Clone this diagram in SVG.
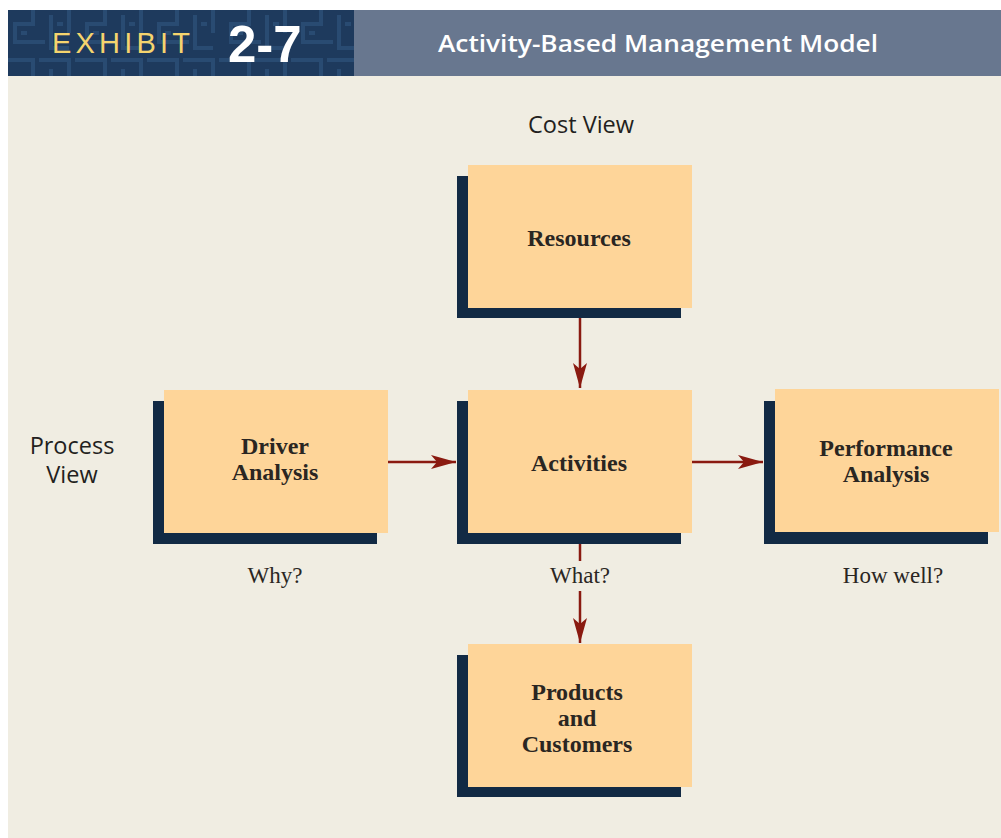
<svg xmlns="http://www.w3.org/2000/svg" width="1001" height="838" viewBox="0 0 1001 838">
<defs>
<style>
.shadow{fill:#122a44}
.box{fill:#fed599}
.lbl{font-family:"Liberation Serif",serif;font-weight:bold;font-size:24px;fill:#2a2622;text-anchor:middle}
.q{font-family:"Liberation Serif",serif;font-size:23px;fill:#2a2622;text-anchor:middle}
.view{font-family:"Open Sans","Liberation Sans",sans-serif;font-size:23.5px;fill:#231f20;text-anchor:middle}
.conn{stroke:#8a1a10;stroke-width:2.5;fill:none}
</style>
<marker id="ah" markerUnits="userSpaceOnUse" markerWidth="26" markerHeight="16" viewBox="-25 -8 26 16" refX="0" refY="0" orient="auto">
<path d="M0 0 L-25 -7 L-19 0 L-25 7 Z" fill="#8a1a10"/>
</marker>
<pattern id="maze" patternUnits="userSpaceOnUse" width="72" height="54">
<rect width="72" height="54" fill="#1e3a5d"/>
<path d="M3 6 H33 V24 H15 V42 H45 M39 6 H69 V33 M51 15 V48 H69 M21 33 H27 M57 24 H63" stroke="#294b72" stroke-width="4" fill="none"/>
</pattern>
</defs>
<rect width="1001" height="838" fill="#ffffff"/>
<rect x="8" y="76" width="993" height="762" fill="#f0ede2"/>
<g id="header">
<rect x="8" y="10" width="346" height="66" fill="url(#maze)"/>
<rect x="354" y="10" width="647" height="66" fill="#68778f"/>
<text x="52" y="53" font-family="Liberation Sans, sans-serif" font-size="29" letter-spacing="4.2" fill="#f5d46e">EXHIBIT</text>
<text x="228" y="62" font-family="Liberation Sans, sans-serif" font-weight="bold" font-size="51" fill="#ffffff">2-7</text>
<text x="438" y="52" font-family="Open Sans, Liberation Sans, sans-serif" font-weight="600" font-size="23" fill="#ffffff" textLength="440" lengthAdjust="spacingAndGlyphs">Activity-Based Management Model</text>
</g>
<g id="view-labels">
<text class="view" x="581" y="133">Cost View</text>
<text class="view" x="72" y="454">Process</text>
<text class="view" x="72" y="483">View</text>
</g>
<g id="connectors">
<path class="conn" d="M580 318 V388" marker-end="url(#ah)"/>
<path class="conn" d="M388 462 H456" marker-end="url(#ah)"/>
<path class="conn" d="M692 462 H763" marker-end="url(#ah)"/>
<path class="conn" d="M580 544 V561"/>
<path class="conn" d="M580 591 V643" marker-end="url(#ah)"/>
</g>
<g id="resources">
<rect class="shadow" x="457" y="176" width="224" height="142"/>
<rect class="box" x="468" y="165" width="224" height="143"/>
<text class="lbl" x="579" y="246">Resources</text>
</g>
<g id="driver-analysis">
<rect class="shadow" x="153" y="401" width="224" height="143"/>
<rect class="box" x="164" y="390" width="224" height="143"/>
<text class="lbl" x="275" y="454">Driver</text>
<text class="lbl" x="275" y="480">Analysis</text>
</g>
<g id="activities">
<rect class="shadow" x="457" y="401" width="224" height="143"/>
<rect class="box" x="468" y="390" width="224" height="143"/>
<text class="lbl" x="579" y="471">Activities</text>
</g>
<g id="performance-analysis">
<rect class="shadow" x="764" y="401" width="224" height="143"/>
<rect class="box" x="775" y="389" width="224" height="143"/>
<text class="lbl" x="886" y="456">Performance</text>
<text class="lbl" x="886" y="482">Analysis</text>
</g>
<g id="products-customers">
<rect class="shadow" x="457" y="655" width="224" height="142"/>
<rect class="box" x="468" y="644" width="224" height="143"/>
<text class="lbl" x="577" y="700">Products</text>
<text class="lbl" x="577" y="726">and</text>
<text class="lbl" x="577" y="752">Customers</text>
</g>
<g id="questions">
<text class="q" x="275" y="583">Why?</text>
<text class="q" x="580" y="583">What?</text>
<text class="q" x="893" y="583">How well?</text>
</g>
</svg>
